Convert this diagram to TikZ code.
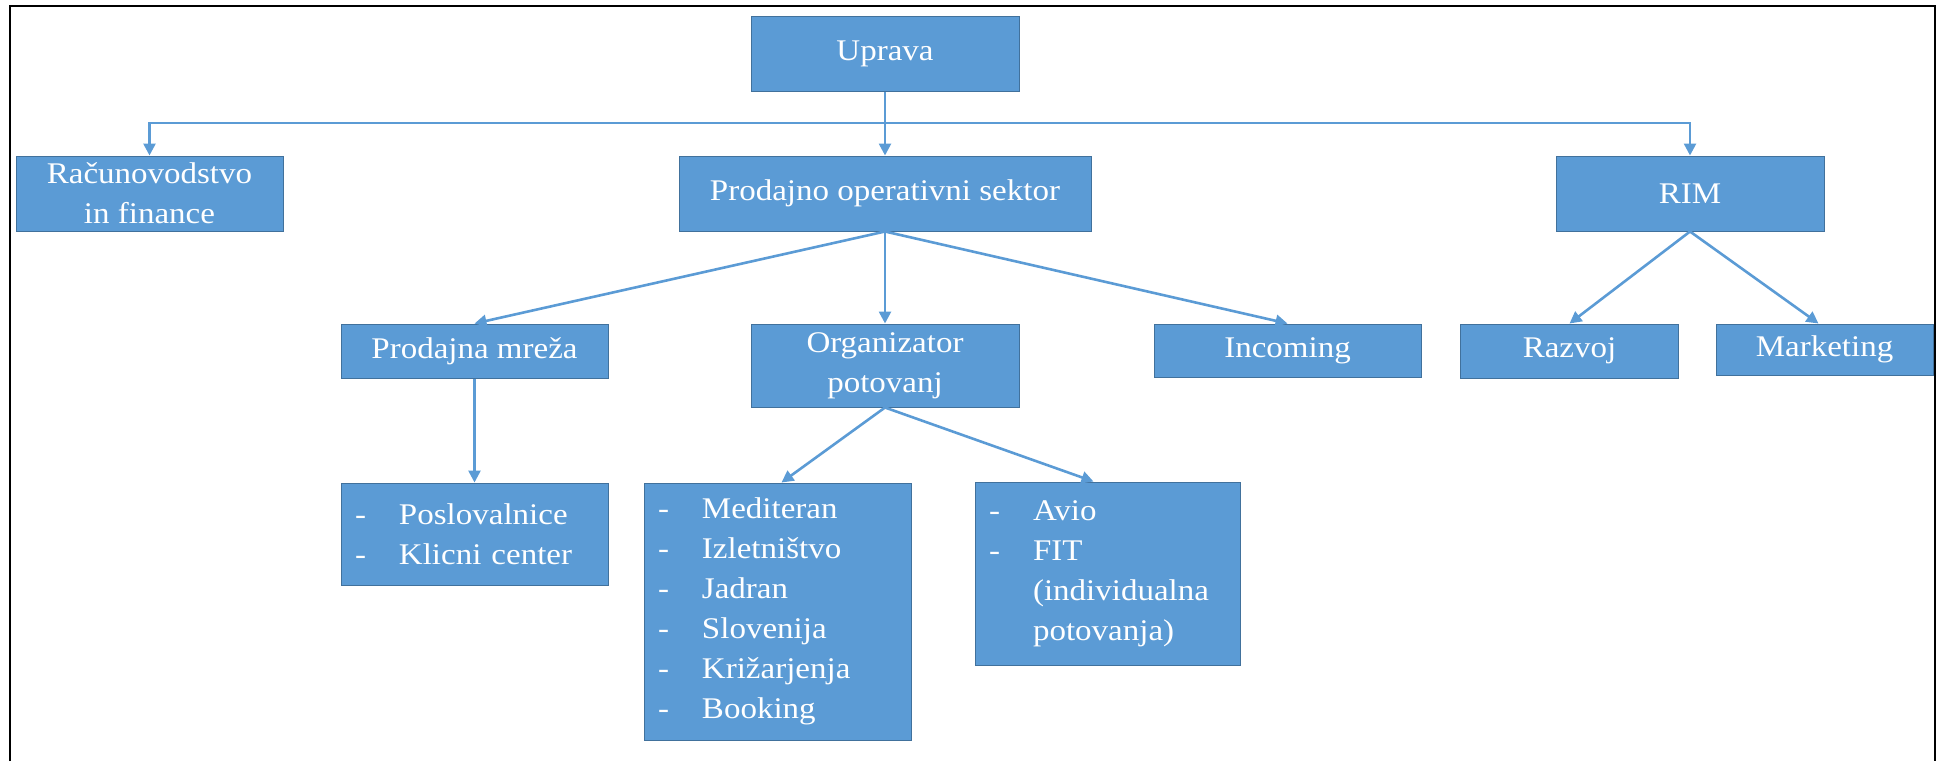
\documentclass[tikz,border=0pt]{standalone}
\usepackage{fontspec}
\setmainfont{Liberation Serif}[FakeStretch=1.1]
\usetikzlibrary{arrows.meta}
\definecolor{boxblue}{HTML}{5B9BD5}
\definecolor{boxedge}{HTML}{41719C}
\newcommand{\dashitem}[1]{\makebox[22pt][l]{-}#1}
\newcommand{\dashgap}{\hspace*{22pt}}

\begin{document}
\begin{tikzpicture}[x=0.5pt, y=-0.5pt,
  font=\fontsize{15pt}{20pt}\selectfont,
  main/.style = {draw=boxedge, fill=boxblue, text=white, line width=0.5pt, inner sep=0pt, align=center},
  list/.style = {main, align=left, inner xsep=7pt},
  link/.style = {boxblue, line width=1.3pt, -{Triangle[length=6pt,width=6pt]}}]
\useasboundingbox (0,0) rectangle (1937,761);
\draw[line width=1pt] (10,761) -- (10,5.5) -- (1935,5.5) -- (1935,761);
% top levels
\node[main, minimum width=134pt, minimum height=37.5pt] (up) at (885,53.5) {Uprava};
\node[main, minimum width=133.5pt, minimum height=37.5pt] (rac) at (149.5,193.5) {Računovodstvo\\in finance};
\node[main, minimum width=206pt, minimum height=37.5pt] (pos) at (885,193.5) {Prodajno operativni sektor};
\node[main, minimum width=134pt, minimum height=37.5pt] (rim) at (1690,193.5) {RIM};
% second level
\node[main, minimum width=133.5pt, minimum height=27pt] (pm) at (474.5,351) {Prodajna mreža};
\node[main, minimum width=134pt, minimum height=41.5pt] (org) at (885,365.5) {Organizator\\potovanj};
\node[main, minimum width=133.5pt, minimum height=26.5pt] (inc) at (1287.5,350.5) {Incoming};
\node[main, minimum width=109pt, minimum height=27pt] (raz) at (1569.5,351) {Razvoj};
\node[main, minimum width=108.5pt, minimum height=25.5pt] (mar) at (1824.5,349.5) {Marketing};
% lists
\node[list, text width=119.5pt, minimum height=51pt] (posl) at (474.5,534) {\dashitem{Poslovalnice}\\\dashitem{Klicni center}};
\node[list, text width=119.5pt, minimum height=128.5pt] (med) at (777.5,611.5) {\dashitem{Mediteran}\\\dashitem{Izletništvo}\\\dashitem{Jadran}\\\dashitem{Slovenija}\\\dashitem{Križarjenja}\\\dashitem{Booking}};
\node[list, text width=118.5pt, minimum height=91.5pt] (avio) at (1107.5,573.5) {\dashitem{Avio}\\\dashitem{FIT}\\\dashgap(individualna\\\dashgap potovanja)};
% connectors
\coordinate (bar) at (885,123);
\draw[link] (up.south) -- (pos.north);
\draw[link] (bar) -| (rac.north);
\draw[link] (bar) -| (rim.north);
\draw[link] (pos.south) -- (pm.north);
\draw[link] (pos.south) -- (org.north);
\draw[link] (pos.south) -- (inc.north);
\draw[link] (rim.south) -- (raz.north);
\draw[link] (rim.south) -- ([xshift=-3pt]mar.north);
\draw[link] (pm.south) -- (posl.north);
\draw[link] (org.south) -- ([xshift=2pt]med.north);
\draw[link] (org.south) -- ([xshift=-7pt]avio.north);
\end{tikzpicture}
\end{document}
